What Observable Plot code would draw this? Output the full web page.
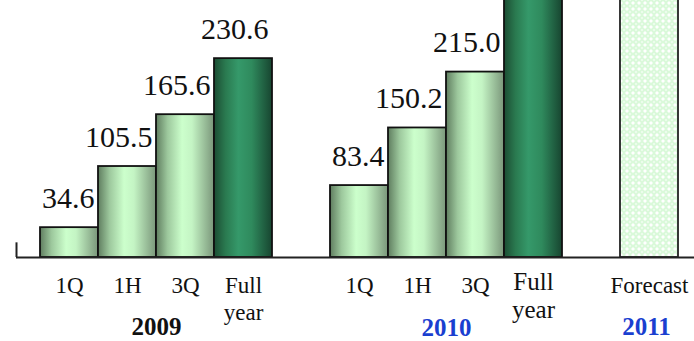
<!DOCTYPE html>
<html>
<head>
<meta charset="utf-8">
<script src="https://cdn.jsdelivr.net/npm/d3@7"></script>
<script src="https://cdn.jsdelivr.net/npm/@observablehq/plot@0.6"></script>
<style>
  html, body { margin: 0; padding: 0; background: #fff; }
  #chart svg { display: block; }
</style>
</head>
<body>
<div id="chart"></div>
<script>
// Cumulative results by period, grouped by year
const periods = ["1Q", "1H", "3Q", "Full\nyear", "1Q", "1H", "3Q", "Full\nyear", "Forecast"];
const groups  = ["2009", "2009", "2009", "2009", "2010", "2010", "2010", "2010", "2011"];
const values  = [34.6, 105.5, 165.6, 230.6, 83.4, 150.2, 215.0, 305.0, 320.0];
const kinds   = ["period", "period", "period", "year", "period", "period", "period", "year", "forecast"];
const yearLabels = ["2009", "2010", "2011"];

// One empty slot separates consecutive year groups
const data = periods.map((p, i) => ({
  period: p,
  group: groups[i],
  value: values[i],
  kind: kinds[i],
  slot: i + yearLabels.indexOf(groups[i])
}));

const yearInfo = yearLabels.map((g, k) => {
  const s = data.filter(d => d.group === g).map(d => d.slot);
  return {label: g, center: (d3.min(s) + d3.max(s) + 1) / 2, k};
});

const serif = "'Liberation Serif', 'Times New Roman', Times, serif";
const xDomain = [-24 / 58, 11 + 16 / 58];
const yTop = 298;

const chart = Plot.plot({
  width: 694,
  height: 341,
  marginLeft: 16,
  marginRight: 0,
  marginTop: 0,
  marginBottom: 84,
  style: {background: "#fff", fontFamily: serif, overflow: "visible"},
  x: {domain: xDomain, axis: null},
  y: {domain: [0, yTop], axis: null},
  marks: [
    // bars
    Plot.rectY(data.filter(d => d.kind === "period"), {
      x1: "slot", x2: d => d.slot + 1, y: "value",
      fill: "url(#lightBar)", stroke: "#111", strokeWidth: 1.8
    }),
    Plot.rectY(data.filter(d => d.kind === "year"), {
      x1: "slot", x2: d => d.slot + 1, y: "value",
      fill: "url(#darkBar)", stroke: "#111", strokeWidth: 1.8
    }),
    Plot.rectY(data.filter(d => d.kind === "forecast"), {
      x1: "slot", x2: d => d.slot + 1, y: "value",
      fill: "url(#forecastFill)", stroke: "#222", strokeWidth: 1.8
    }),
    // baseline and the small stub at its left end
    Plot.ruleY([0], {stroke: "#222", strokeWidth: 2}),
    Plot.ruleX([xDomain[0]], {y1: 0, y2: 17, stroke: "#222", strokeWidth: 2}),
    // value labels above the bars (only where they fit inside the frame)
    Plot.text(data.filter(d => d.value < yTop - 30), {
      x: d => d.slot + 0.5, y: "value", text: d => d.value.toFixed(1),
      textAnchor: "end", lineAnchor: "top", dx: 25, dy: -41,
      fontSize: 30, fill: "#111", fontFamily: serif
    }),
    // period labels under the bars
    Plot.text(data.filter(d => !(d.group === "2010" && d.kind === "year")), {
      x: d => d.slot + 0.5, y: 0, text: "period",
      lineAnchor: "top", dy: 16, lineHeight: 1.17,
      fontSize: 23, fill: "#111", fontFamily: serif
    }),
    Plot.text(data.filter(d => d.group === "2010" && d.kind === "year"), {
      x: d => d.slot + 0.5, y: 0, text: "period",
      lineAnchor: "top", dy: 13, lineHeight: 1.1,
      fontSize: 25, fill: "#111", fontFamily: serif
    }),
    // year labels
    Plot.text(yearInfo.filter(d => d.label === "2009"), {
      x: "center", y: 0, text: "label", lineAnchor: "top", dy: 60,
      fontSize: 25, fontWeight: "bold", fill: "#111", fontFamily: serif
    }),
    Plot.text(yearInfo.filter(d => d.label === "2010"), {
      x: "center", y: 0, text: "label", lineAnchor: "top", dy: 61,
      fontSize: 25, fontWeight: "bold", fill: "#1a3fd0", fontFamily: serif
    }),
    Plot.text(yearInfo.filter(d => d.label === "2011"), {
      x: "center", y: 0, text: "label", lineAnchor: "top", dy: 60, dx: -3,
      fontSize: 25, fontWeight: "bold", fill: "#1a3fd0", fontFamily: serif
    })
  ]
});

// Gradients and the forecast pattern used by the bar fills
const defs = d3.select(chart).insert("defs", ":first-child");

const light = defs.append("linearGradient").attr("id", "lightBar")
  .attr("x1", 0).attr("x2", 1).attr("y1", 0).attr("y2", 0);
[[0, "#5f7d5f"], [0.2, "#9dc89d"], [0.45, "#ccffcc"], [0.62, "#c4f4c4"], [1, "#7a967a"]]
  .forEach(([o, c]) => light.append("stop").attr("offset", o).attr("stop-color", c));

const dark = defs.append("linearGradient").attr("id", "darkBar")
  .attr("x1", 0).attr("x2", 1).attr("y1", 0).attr("y2", 0);
[[0, "#1b4d33"], [0.2, "#2a7a50"], [0.42, "#35996a"], [0.65, "#2f8a5d"], [1, "#174530"]]
  .forEach(([o, c]) => dark.append("stop").attr("offset", o).attr("stop-color", c));

const pat = defs.append("pattern").attr("id", "forecastFill")
  .attr("patternUnits", "userSpaceOnUse").attr("width", 6).attr("height", 6);
pat.append("rect").attr("width", 6).attr("height", 6).attr("fill", "#daf9da");
pat.append("path").attr("d", "M3,1 L5,3 L3,5 L1,3 Z").attr("fill", "#ffffff");
pat.append("path").attr("d", "M0,-1 L1,0 L0,1 L-1,0 Z M6,-1 L7,0 L6,1 L5,0 Z M0,5 L1,6 L0,7 L-1,6 Z M6,5 L7,6 L6,7 L5,6 Z").attr("fill", "#ffffff");

document.getElementById("chart").append(chart);
</script>
</body>
</html>
